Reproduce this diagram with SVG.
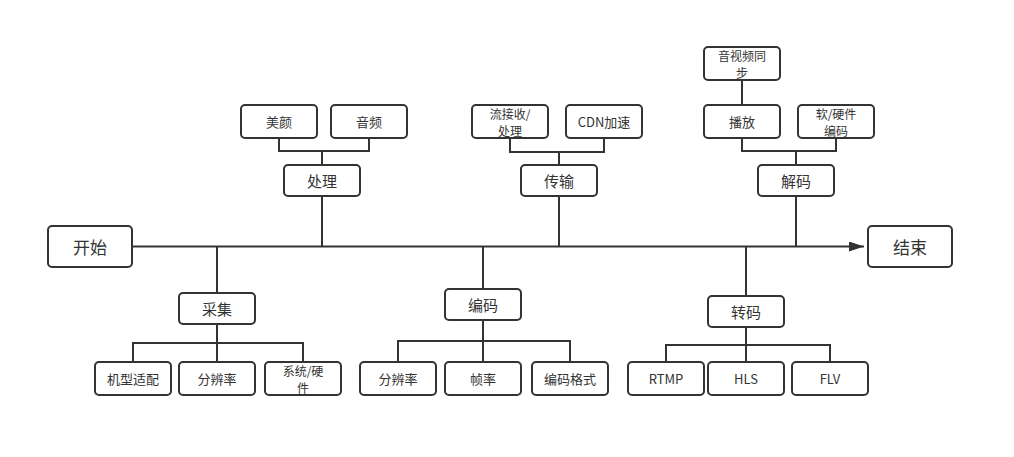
<svg xmlns="http://www.w3.org/2000/svg" width="1014" height="457" viewBox="0 0 1014 457">
<defs>
<style>
.b{fill:#fff;stroke:#333;stroke-width:2}
.c{fill:none;stroke:#333;stroke-width:2}
text{font-family:"Noto Sans CJK SC","Liberation Sans",sans-serif;fill:#333;text-anchor:middle;dominant-baseline:central}
.s{font-size:13px}
.t{font-size:12px}
.m{font-size:15px}
.l{font-size:17px}
</style>
<marker id="ah" markerWidth="16" markerHeight="12" refX="15" refY="5" orient="auto" markerUnits="userSpaceOnUse">
<path d="M0,0 L15,5 L0,10 Z" fill="#333"/>
</marker>
</defs>
<rect width="1014" height="457" fill="#fff"/>
<g id="connectors">
<path class="c" d="M132,246.5 H864" marker-end="url(#ah)"/>
<path class="c" d="M322,196 V246.5 M322,165 V151 M279,138 V151 H369 V138"/>
<path class="c" d="M559,196 V246.5 M559,165 V152 M510,138 V152 H604 V138"/>
<path class="c" d="M796,196 V246.5 M796,165 V151 M742,138 V151 H836 V138 M742,105 V80"/>
<path class="c" d="M217,246.5 V293 M217,324 V362 M133,362 V343 H303 V362"/>
<path class="c" d="M483,246.5 V289 M483,320 V362 M398,362 V341 H570 V362"/>
<path class="c" d="M746,246.5 V296 M746,327 V362 M666,362 V345 H830 V362"/>
</g>
<g id="start"><rect class="b" x="48" y="226" width="84" height="41" rx="4"/><text class="l" x="90" y="246.5">开始</text></g>
<g id="end"><rect class="b" x="868" y="226" width="84" height="41" rx="4"/><text class="l" x="910" y="246.5">结束</text></g>
<g id="chuli"><rect class="b" x="284" y="165" width="76" height="31" rx="4"/><text class="m" x="322" y="180.5">处理</text></g>
<g id="meiyan"><rect class="b" x="241" y="105" width="76" height="33" rx="4"/><text class="s" x="279" y="121.5">美颜</text></g>
<g id="yinpin"><rect class="b" x="331" y="105" width="76" height="33" rx="4"/><text class="s" x="369" y="121.5">音频</text></g>
<g id="chuanshu"><rect class="b" x="521" y="165" width="76" height="31" rx="4"/><text class="m" x="559" y="180.5">传输</text></g>
<g id="liujieshou"><rect class="b" x="472" y="105" width="76" height="33" rx="4"/><text class="t" x="510" y="113">流接收/</text><text class="t" x="510" y="130.5">处理</text></g>
<g id="cdn"><rect class="b" x="566" y="105" width="76" height="33" rx="4"/><text class="s" x="604" y="121.5">CDN加速</text></g>
<g id="jiema"><rect class="b" x="758" y="165" width="76" height="31" rx="4"/><text class="m" x="796" y="180.5">解码</text></g>
<g id="bofang"><rect class="b" x="704" y="105" width="76" height="33" rx="4"/><text class="s" x="742" y="121.5">播放</text></g>
<g id="ruanying"><rect class="b" x="798" y="105" width="76" height="33" rx="4"/><text class="t" x="836" y="113">软/硬件</text><text class="t" x="836" y="130.5">编码</text></g>
<g id="tongbu"><rect class="b" x="704" y="47" width="76" height="33" rx="4"/><text class="t" x="742" y="55">音视频同</text><text class="t" x="742" y="72.5">步</text></g>
<g id="caiji"><rect class="b" x="179" y="293" width="76" height="31" rx="4"/><text class="m" x="217" y="308.5">采集</text></g>
<g id="jixing"><rect class="b" x="95" y="362" width="76" height="33" rx="4"/><text class="s" x="133" y="378.5">机型适配</text></g>
<g id="fenbian1"><rect class="b" x="179" y="362" width="76" height="33" rx="4"/><text class="s" x="217" y="378.5">分辨率</text></g>
<g id="xitong"><rect class="b" x="265" y="362" width="76" height="33" rx="4"/><text class="t" x="303" y="370">系统/硬</text><text class="t" x="303" y="387.5">件</text></g>
<g id="bianma"><rect class="b" x="445" y="289" width="76" height="31" rx="4"/><text class="m" x="483" y="304.5">编码</text></g>
<g id="fenbian2"><rect class="b" x="360" y="362" width="76" height="33" rx="4"/><text class="s" x="398" y="378.5">分辨率</text></g>
<g id="zhenlv"><rect class="b" x="445" y="362" width="76" height="33" rx="4"/><text class="s" x="483" y="378.5">帧率</text></g>
<g id="geshi"><rect class="b" x="532" y="362" width="76" height="33" rx="4"/><text class="s" x="570" y="378.5">编码格式</text></g>
<g id="zhuanma"><rect class="b" x="708" y="296" width="76" height="31" rx="4"/><text class="m" x="746" y="311.5">转码</text></g>
<g id="rtmp"><rect class="b" x="628" y="362" width="76" height="33" rx="4"/><text class="s" x="666" y="378.5">RTMP</text></g>
<g id="hls"><rect class="b" x="708" y="362" width="76" height="33" rx="4"/><text class="s" x="746" y="378.5">HLS</text></g>
<g id="flv"><rect class="b" x="792" y="362" width="76" height="33" rx="4"/><text class="s" x="830" y="378.5">FLV</text></g>
</svg>
